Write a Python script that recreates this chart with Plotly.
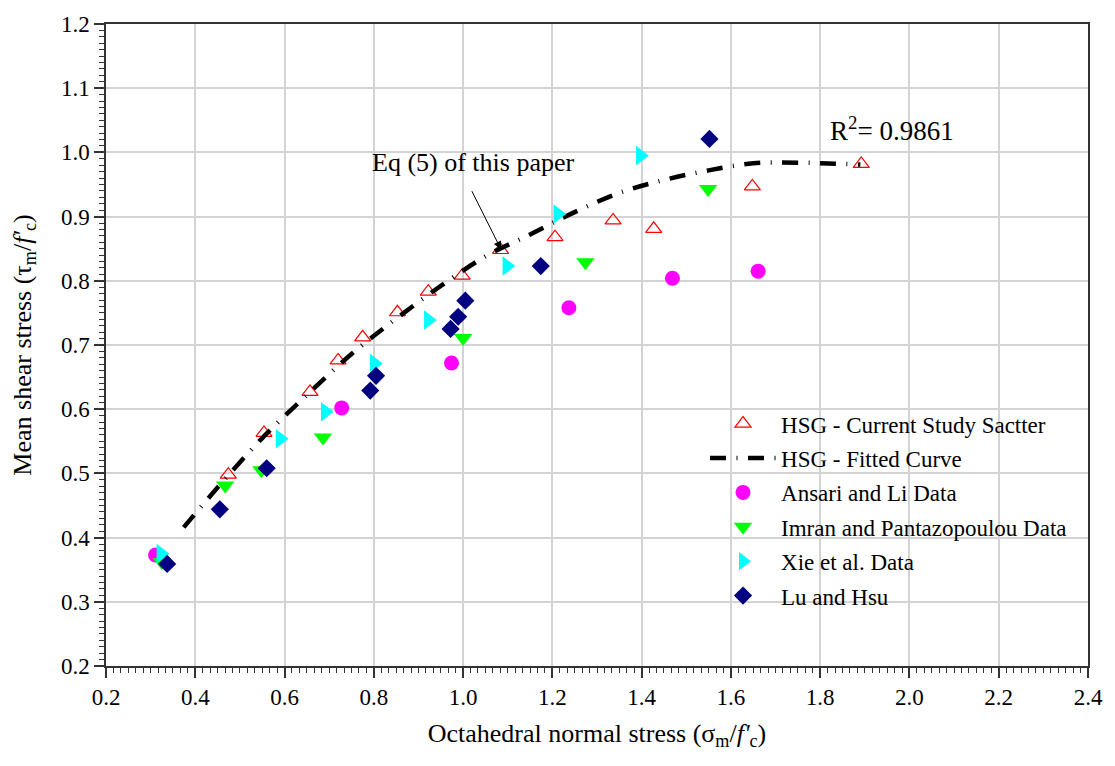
import plotly.graph_objects as go

# ---------------- data ----------------
hsg_x = [0.474, 0.554, 0.657, 0.720, 0.775, 0.853, 0.922, 0.998, 1.084, 1.206, 1.336, 1.427, 1.648, 1.892]
hsg_y = [0.498, 0.563, 0.627, 0.676, 0.712, 0.751, 0.783, 0.808, 0.848, 0.868, 0.894, 0.881, 0.947, 0.982]

fit_x = [0.374, 0.45, 0.55, 0.65, 0.75, 0.85, 0.95, 1.05, 1.15, 1.25, 1.35, 1.45, 1.55, 1.65, 1.75, 1.89]
fit_y = [0.416, 0.478, 0.555, 0.622, 0.686, 0.741, 0.792, 0.838, 0.872, 0.907, 0.937, 0.957, 0.972, 0.983, 0.984, 0.981]

ansari_x = [0.311, 0.728, 0.974, 1.237, 1.469, 1.661]
ansari_y = [0.373, 0.602, 0.672, 0.758, 0.804, 0.815]

imran_x = [0.325, 0.467, 0.548, 0.686, 1.000, 1.274, 1.549]
imran_y = [0.362, 0.481, 0.505, 0.556, 0.711, 0.829, 0.943]

xie_x = [0.323, 0.590, 0.691, 0.801, 0.922, 1.098, 1.212, 1.397]
xie_y = [0.375, 0.554, 0.596, 0.671, 0.739, 0.823, 0.904, 0.995]

lu_x = [0.337, 0.455, 0.560, 0.792, 0.805, 0.972, 0.989, 1.005, 1.174, 1.552]
lu_y = [0.359, 0.444, 0.508, 0.629, 0.652, 0.725, 0.744, 0.769, 0.823, 1.021]

x_ticks = [0.2, 0.4, 0.6, 0.8, 1.0, 1.2, 1.4, 1.6, 1.8, 2.0, 2.2, 2.4]
y_ticks = [0.2, 0.3, 0.4, 0.5, 0.6, 0.7, 0.8, 0.9, 1.0, 1.1, 1.2]

FONT = "Liberation Serif, Times New Roman, serif"

fig = go.Figure()

fig.add_trace(go.Scatter(
    x=hsg_x, y=hsg_y, mode="markers", name="HSG - Current Study Sactter",
    legendgroup="a",
    marker=dict(symbol="triangle-up-open", size=14, color="#FF0000", line=dict(width=1.2, color="#FF0000"))))
fig.add_trace(go.Scatter(
    x=fit_x, y=fit_y, mode="lines", name="HSG - Fitted Curve", legendgroup="b",
    line=dict(color="black", width=4.5, dash="16px,10.5px,1px,10.5px", shape="spline")))
fig.add_trace(go.Scatter(
    x=ansari_x, y=ansari_y, mode="markers", name="Ansari and Li Data", legendgroup="c",
    marker=dict(symbol="circle", size=15, color="#FF00FF", line=dict(width=0))))
fig.add_trace(go.Scatter(
    x=imran_x, y=imran_y, mode="markers", name="Imran and Pantazopoulou Data", legendgroup="d",
    marker=dict(symbol="triangle-down", size=16, color="#00FF00", line=dict(width=0))))
fig.add_trace(go.Scatter(
    x=xie_x, y=xie_y, mode="markers", name="Xie et al. Data", legendgroup="e",
    marker=dict(symbol="triangle-right", size=17, color="#00FFFF", line=dict(width=0))))
fig.add_trace(go.Scatter(
    x=lu_x, y=lu_y, mode="markers", name="Lu and Hsu", legendgroup="f",
    marker=dict(symbol="diamond", size=14, color="#000080", line=dict(width=0))))

# white legend panel hiding the grid
fig.add_shape(type="rect", xref="x", yref="y", x0=1.404, x1=2.397, y0=0.287, y1=0.659,
              fillcolor="white", line=dict(width=0), layer="below")

axis_common = dict(
    showline=True, linecolor="#333333", linewidth=1.5, mirror=True,
    ticks="outside", ticklen=10, tickwidth=1.5, tickcolor="#333333",
    showgrid=True, gridcolor="#D3D3D3", gridwidth=1.5, zeroline=False,
    tickfont=dict(family=FONT, size=23, color="black"),
)

fig.update_xaxes(
    range=[0.2, 2.4], tickvals=x_ticks, ticktext=[f"{v:.1f}" for v in x_ticks],
    minor=dict(tick0=0.2, dtick=0.2 / 12, ticks="outside", ticklen=5, tickwidth=1, tickcolor="#333333", showgrid=False),
    title=dict(text="Octahedral normal stress (σ<sub>m</sub>/<i>f'</i><sub>c</sub>)",
               font=dict(family=FONT, size=26, color="black"), standoff=14),
    **axis_common)
fig.update_yaxes(
    range=[0.2, 1.2], tickvals=y_ticks, ticktext=[f"{v:.1f}" for v in y_ticks],
    minor=dict(tick0=0.2, dtick=0.01, ticks="outside", ticklen=5, tickwidth=1, tickcolor="#333333", showgrid=False),
    title=dict(text="Mean shear stress (τ<sub>m</sub>/<i>f'</i><sub>c</sub>)",
               font=dict(family=FONT, size=26, color="black"), standoff=22),
    **axis_common)

fig.add_annotation(x=1.0225, y=0.984, xref="x", yref="y", text="Eq (5) of this paper",
                   showarrow=False, font=dict(family=FONT, size=26, color="black"))
fig.add_annotation(x=1.085, y=0.849, xref="x", yref="y", ax=1.013, ay=0.949,
                   axref="x", ayref="y", text=" ", showarrow=True,
                   arrowhead=2, arrowsize=1.6, arrowwidth=1, arrowcolor="black")
fig.add_annotation(x=1.962, y=1.037, xref="x", yref="y", text="R<sup>2</sup>= 0.9861",
                   showarrow=False, font=dict(family=FONT, size=27, color="black"))

fig.update_layout(
    width=1115, height=766,
    margin=dict(l=106, r=20, t=17, b=100),
    paper_bgcolor="white", plot_bgcolor="white",
    showlegend=True,
    legend=dict(x=0.61, y=0.411, xanchor="left", yanchor="top",
                bgcolor="rgba(0,0,0,0)", borderwidth=0,
                font=dict(family=FONT, size=23, color="black"),
                traceorder="grouped", tracegroupgap=1.5, itemwidth=66),
)

fig.write_html("out.html")
